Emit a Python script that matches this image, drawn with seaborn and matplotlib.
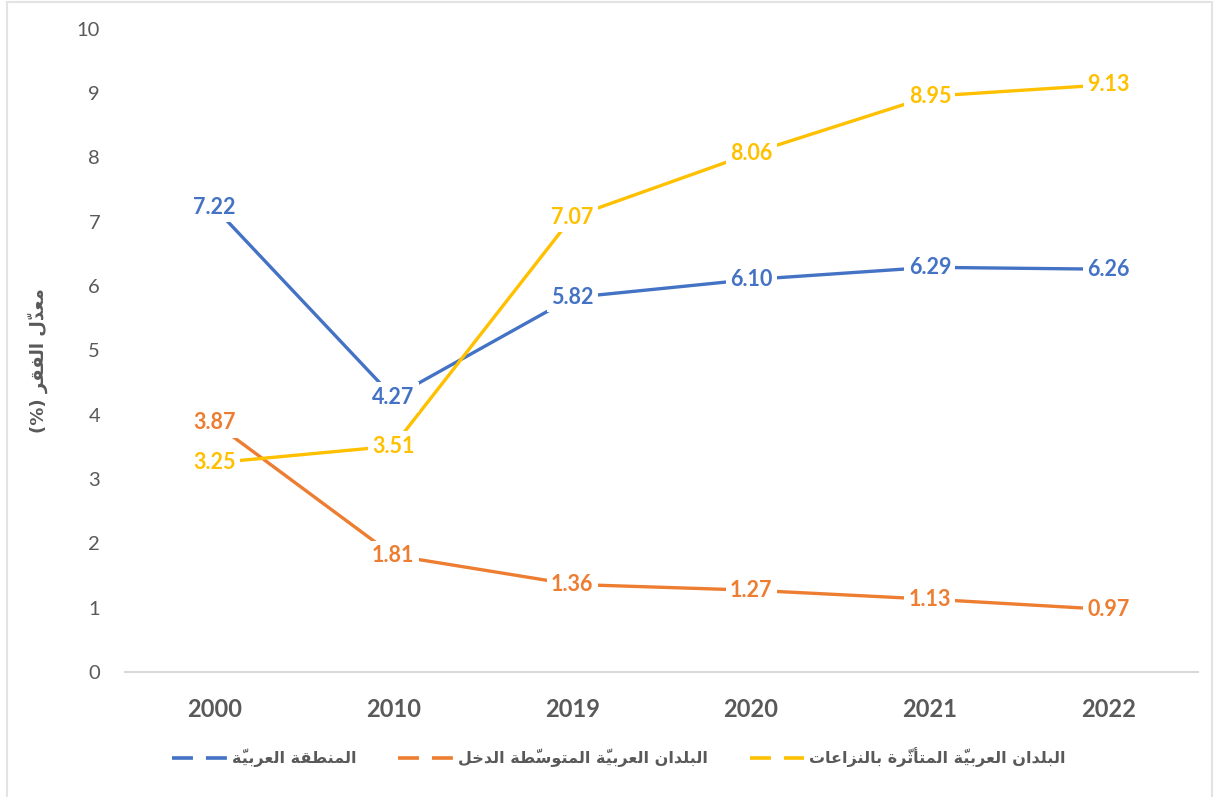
import pandas as pd
import matplotlib
matplotlib.use("Agg")
import matplotlib.pyplot as plt
import matplotlib.patches as mpatches
import seaborn as sns

# data
years = ['2000', '2010', '2019', '2020', '2021', '2022']
arab_region = [7.22, 4.27, 5.82, 6.10, 6.29, 6.26]
middle_income = [3.87, 1.81, 1.36, 1.27, 1.13, 0.97]
conflict_affected = [3.25, 3.51, 7.07, 8.06, 8.95, 9.13]

series_names = ['المنطقة العربيّة',
                'البلدان العربيّة المتوسّطة الدخل',
                'البلدان العربيّة المتأثّرة بالنزاعات']
series_values = [arab_region, middle_income, conflict_affected]
series_colors = ['#4472C4', '#ED7D31', '#FFC000']
y_label = 'معدّل الفقر (%)'

# --- minimal Arabic shaping (matplotlib has no bidi / shaping) ---
FORMS = {
    'ا': ('\uFE8D', '\uFE8E', None, None),
    'أ': ('\uFE83', '\uFE84', None, None),
    'ب': ('\uFE8F', '\uFE90', '\uFE91', '\uFE92'),
    'ت': ('\uFE95', '\uFE96', '\uFE97', '\uFE98'),
    'ث': ('\uFE99', '\uFE9A', '\uFE9B', '\uFE9C'),
    'خ': ('\uFEA5', '\uFEA6', '\uFEA7', '\uFEA8'),
    'د': ('\uFEA9', '\uFEAA', None, None),
    'ر': ('\uFEAD', '\uFEAE', None, None),
    'ز': ('\uFEAF', '\uFEB0', None, None),
    'س': ('\uFEB1', '\uFEB2', '\uFEB3', '\uFEB4'),
    'ط': ('\uFEC1', '\uFEC2', '\uFEC3', '\uFEC4'),
    'ظ': ('\uFEC5', '\uFEC6', '\uFEC7', '\uFEC8'),
    'ع': ('\uFEC9', '\uFECA', '\uFECB', '\uFECC'),
    'ف': ('\uFED1', '\uFED2', '\uFED3', '\uFED4'),
    'ق': ('\uFED5', '\uFED6', '\uFED7', '\uFED8'),
    'ل': ('\uFEDD', '\uFEDE', '\uFEDF', '\uFEE0'),
    'م': ('\uFEE1', '\uFEE2', '\uFEE3', '\uFEE4'),
    'ن': ('\uFEE5', '\uFEE6', '\uFEE7', '\uFEE8'),
    'ة': ('\uFE93', '\uFE94', None, None),
    'و': ('\uFEED', '\uFEEE', None, None),
    'ي': ('\uFEF1', '\uFEF2', '\uFEF3', '\uFEF4'),
}
MARKS = {'\u064E', '\u0651'}
MIRROR = {'(': ')', ')': '('}


def shape_rtl(text):
    chars = list(text)
    letters = [i for i, c in enumerate(chars) if c not in MARKS]

    def joins_left(c):
        return c in FORMS and FORMS[c][2] is not None

    out = list(chars)
    for k, i in enumerate(letters):
        c = chars[i]
        if c not in FORMS:
            continue
        prev = chars[letters[k - 1]] if k > 0 else None
        nxt = chars[letters[k + 1]] if k + 1 < len(letters) else None
        jp = prev is not None and joins_left(prev)
        jn = nxt is not None and nxt in FORMS and joins_left(c)
        iso, fin, ini, med = FORMS[c]
        if jp and jn:
            out[i] = med
        elif jp:
            out[i] = fin
        elif jn:
            out[i] = ini
        else:
            out[i] = iso
    # group base + marks into clusters, reverse to visual order;
    # the zero-width mark is drawn first so it lands over its base glyph
    clusters = []
    for i, c in enumerate(out):
        if chars[i] in MARKS and clusters:
            clusters[-1] = c + clusters[-1]
        else:
            clusters.append(MIRROR.get(c, c))
    return ''.join(reversed(clusters))


# long-form table for seaborn
df = pd.DataFrame({
    'year': years * 3,
    'rate': arab_region + middle_income + conflict_affected,
    'series': sum([[n] * len(years) for n in series_names], []),
})

sns.set_style('white')
plt.rcParams['font.family'] = ['Lato', 'DejaVu Sans']
FAM = ['Lato', 'DejaVu Sans']
GRAY = '#595959'

fig = plt.figure(figsize=(12.14, 7.97), dpi=100)
ax = fig.add_axes([0.103, 0.157, 0.884, 0.807])

sns.lineplot(data=df, x='year', y='rate', hue='series', hue_order=series_names,
             palette=series_colors, linewidth=2.4, sort=False, legend=False, ax=ax)

# data labels centred on the points, white box hides the line beneath
for vals, col in zip(series_values, series_colors):
    for i, v in enumerate(vals):
        ax.text(i, v, f'{v:.2f}', ha='center', va='center', color=col,
                fontsize=15.5, fontweight='bold', family=FAM, zorder=5,
                bbox=dict(boxstyle='square,pad=0.2', fc='white', ec='none'))

ax.set_xlim(-0.5, len(years) - 0.5)
ax.set_ylim(0, 10)
ax.set_yticks(range(0, 11))
ax.tick_params(axis='y', length=0, pad=18, labelsize=14.5, labelcolor=GRAY)
ax.tick_params(axis='x', length=0, pad=19, labelsize=17, labelcolor=GRAY)
for t in ax.get_xticklabels():
    t.set_fontweight('bold')
ax.set_xlabel('')
ax.set_ylabel('')
for s in ['top', 'right', 'left']:
    ax.spines[s].set_visible(False)
ax.spines['bottom'].set_color('#D9D9D9')
ax.spines['bottom'].set_linewidth(1.5)

fig.text(0.031, 0.548, shape_rtl(y_label), rotation=90, ha='center', va='center',
         fontsize=13, fontweight='bold', color=GRAY, family='DejaVu Sans')

handles = [plt.Line2D([], [], color=c, lw=2.6, linestyle=(0, (5.8, 3.6)))
           for c in series_colors]
leg = fig.legend(handles, [shape_rtl(n) for n in series_names], loc='center',
                 bbox_to_anchor=(0.51, 0.05), ncol=3, frameon=False,
                 handlelength=3.4, columnspacing=2.6, handletextpad=0.35,
                 prop={'family': 'DejaVu Sans', 'weight': 'bold', 'size': 11.5})
for t in leg.get_texts():
    t.set_color(GRAY)

# light chart-area border like the source
fig.patches.append(mpatches.Rectangle((0.006, -0.01), 0.992, 1.008, transform=fig.transFigure,
                                      fill=False, ec='#E3E3E3', lw=1.5))

fig.savefig('out.png', dpi=100)
